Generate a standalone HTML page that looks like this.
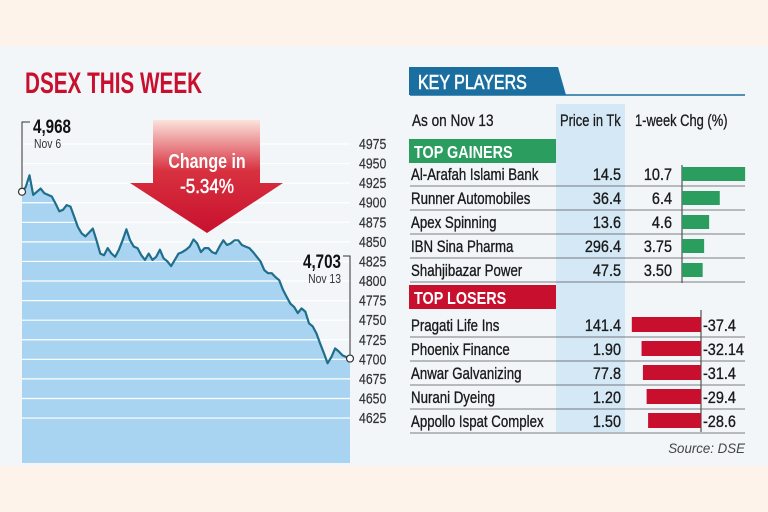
<!DOCTYPE html>
<html><head><meta charset="utf-8"><style>
html,body{margin:0;padding:0;background:#fdf3ea;}
svg{display:block;font-family:"Liberation Sans",sans-serif;}
</style></head><body>
<svg id="c" width="768" height="512" viewBox="0 0 768 512">
<defs>
<linearGradient id="ag" x1="0" y1="0" x2="0" y2="1">
<stop offset="0" stop-color="#fbe3dc"/><stop offset="0.45" stop-color="#d8313f"/><stop offset="1" stop-color="#c8102e"/>
</linearGradient>
</defs>
<rect x="0" y="0" width="768" height="512" fill="#fdf3ea"/>
<rect x="0" y="46" width="768" height="420" fill="#f2f6f9"/>
<g id="chart"></g>
<g id="table"></g>
</svg>
<script>
const NS='http://www.w3.org/2000/svg';
const yTicks=[4975,4950,4925,4900,4875,4850,4825,4800,4775,4750,4725,4700,4675,4650,4625];
const dsexValues=[4914,4920,4935,4910,4914,4918,4912,4910,4908,4899,4889,4891,4897,4895,4882,4869,4861,4857,4862,4867,4852,4835,4833,4842,4835,4831,4840,4852,4866,4852,4844,4842,4833,4827,4835,4827,4831,4840,4829,4825,4819,4827,4835,4837,4840,4844,4853,4848,4837,4842,4842,4837,4835,4844,4852,4846,4848,4852,4852,4846,4844,4842,4837,4831,4825,4814,4810,4810,4805,4801,4789,4780,4771,4767,4759,4765,4761,4746,4742,4733,4720,4708,4695,4703,4714,4710,4705,4703,4701];
const gainerNames=['Al-Arafah Islami Bank','Runner Automobiles','Apex Spinning','IBN Sina Pharma','Shahjibazar Power'];
const gainerPrices=['14.5','36.4','13.6','296.4','47.5'];
const gainerChg=[10.7,6.4,4.6,3.75,3.50];
const gainerChgLabels=['10.7','6.4','4.6','3.75','3.50'];
const loserNames=['Pragati Life Ins','Phoenix Finance','Anwar Galvanizing','Nurani Dyeing','Appollo Ispat Complex'];
const loserPrices=['141.4','1.90','77.8','1.20','1.50'];
const loserChg=[-37.4,-32.14,-31.4,-29.4,-28.6];
const loserChgLabels=['-37.4','-32.14','-31.4','-29.4','-28.6'];

function el(tag,attrs,parent,text){const e=document.createElementNS(NS,tag);for(const k in attrs)e.setAttribute(k,attrs[k]);if(text!==undefined)e.textContent=text;parent.appendChild(e);return e;}
function txt(parent,x,y,s,size,opts){opts=opts||{};const g=el('g',{transform:`translate(${x},${y}) scale(${opts.sx||0.8},1)`},parent);
const a={x:0,y:0,'font-size':size,'font-weight':opts.bold?'bold':'normal',fill:opts.fill||'#1a1a1a','text-anchor':opts.anchor||'start','font-style':opts.italic?'italic':'normal'};
if(opts.heavy){a.stroke=opts.fill||'#1a1a1a';a['stroke-width']=opts.heavy;}
const t=el('text',a,g,s);return t;}

const chart=document.getElementById('chart');
const X0=22,X1=350,YB=463;
const yScale=v=>144+(4975-v)*0.783;
const xScale=i=>X0+(X1-X0)*i/(dsexValues.length-1);

let d=`M${X0},${YB}`;dsexValues.forEach((v,i)=>d+=` L${xScale(i).toFixed(1)},${yScale(v).toFixed(1)}`);d+=` L${X1},${YB} Z`;
const area=el('path',{d:d,fill:'#a9d4f1'},chart);


yTicks.forEach(t=>{const yy=yScale(t);
 const ln=el('line',{x1:X0,x2:X1,y1:yy,y2:yy,stroke:'#ffffff','stroke-width':1.2},chart);
 
 
 const lb=txt(chart,359,yy+5,String(t),15,{sx:0.82,fill:'#333',heavy:0.2});
 
 
});
let ld='';dsexValues.forEach((v,i)=>ld+=(i?' L':'M')+xScale(i).toFixed(1)+','+yScale(v).toFixed(1));
const line=el('path',{d:ld,fill:'none',stroke:'#1f6e8c','stroke-width':2.2,'stroke-linejoin':'round'},chart);


const sp=el('circle',{cx:xScale(0),cy:yScale(dsexValues[0]),r:3.5,fill:'#fff',stroke:'#333','stroke-width':1.2},chart);


const lastI=dsexValues.length-1;
const ep=el('circle',{cx:xScale(lastI),cy:yScale(dsexValues[lastI]),r:3.5,fill:'#fff',stroke:'#333','stroke-width':1.2},chart);


el('path',{d:`M30,122 L22,122 L22,${yScale(dsexValues[0])-4}`,fill:'none',stroke:'#333','stroke-width':1},chart);
el('path',{d:`M343,256 L350,256 L350,${yScale(dsexValues[lastI])-4}`,fill:'none',stroke:'#333','stroke-width':1},chart);
let t;
t=txt(chart,33,133,'4,968',19,{bold:true,fill:'#111'});
t=txt(chart,34,148,'Nov 6',13,{fill:'#333'});
t=txt(chart,341,268,'4,703',19,{bold:true,fill:'#111',anchor:'end'});
t=txt(chart,341,283,'Nov 13',13,{fill:'#333',anchor:'end'});
t=txt(chart,25,93,'DSEX THIS WEEK',30,{bold:true,fill:'#c8102e',sx:0.69});
const ar=el('path',{d:'M153,120 L260,120 L260,183 L283,183 L207,233 L130,183 L153,183 Z',fill:'url(#ag)'},chart);


t=txt(chart,207,168,'Change in',20,{bold:true,fill:'#fff',anchor:'middle'});
t=txt(chart,207,193,'-5.34%',20,{fill:'#fff',anchor:'middle',sx:0.85,heavy:0.5});

const tb=document.getElementById('table');
el('rect',{x:556,y:104,width:69,height:328,fill:'#d5e8f6'},tb);
el('line',{x1:410,x2:745,y1:95,y2:95,stroke:'#1a6fa0','stroke-width':1.5},tb);
const tab=el('path',{d:'M409,67 L558,67 L566,95 L409,95 Z',fill:'#1a6fa0'},tb);


t=txt(tb,418,89,'KEY PLAYERS',20,{fill:'#fff',sx:0.8,heavy:0.6});
t=txt(tb,412,126,'As on Nov 13',17,{heavy:0.3});
t=txt(tb,560,126,'Price in Tk',17,{sx:0.76,heavy:0.3});
t=txt(tb,635,126,'1-week Chg (%)',17,{sx:0.76,heavy:0.3});
el('rect',{x:409,y:139,width:147,height:24,fill:'#2a9d5f'},tb);
t=txt(tb,414,158,'TOP GAINERS',18,{bold:true,fill:'#fff',sx:0.8});
el('rect',{x:409,y:285,width:147,height:24,fill:'#c8102e'},tb);
t=txt(tb,414,304,'TOP LOSERS',18,{bold:true,fill:'#fff',sx:0.8});

const GAX=682,gScale=5.9;
el('line',{x1:GAX,x2:GAX,y1:165,y2:283,stroke:'#333','stroke-width':1},tb);
gainerNames.forEach((n,i)=>{const b=180+i*24;
 let a=txt(tb,411,b,n,17,{heavy:0.35,sx:0.78});
 a=txt(tb,621,b,gainerPrices[i],17,{anchor:'end',sx:0.85,heavy:0.35});
 a=txt(tb,672,b,gainerChgLabels[i],17,{anchor:'end',sx:0.85,heavy:0.35});
 const r=el('rect',{x:GAX,y:b-13,width:gainerChg[i]*gScale,height:14,fill:'#2a9d5f'},tb);
 
 
 el('line',{x1:410,x2:745,y1:b+6,y2:b+6,stroke:'#555','stroke-width':0.8},tb);
});
const LAX=701,lScale=1.85;
el('line',{x1:LAX,x2:LAX,y1:310,y2:432,stroke:'#333','stroke-width':1},tb);
loserNames.forEach((n,i)=>{const b=331+i*24;
 let a=txt(tb,411,b,n,17,{heavy:0.35,sx:0.78});
 a=txt(tb,621,b,loserPrices[i],17,{anchor:'end',sx:0.85,heavy:0.35});
 a=txt(tb,703,b,loserChgLabels[i],17,{sx:0.85,heavy:0.35});
 const w=-loserChg[i]*lScale;
 const r=el('rect',{x:LAX-w,y:b-14,width:w,height:15,fill:'#c8102e'},tb);
 
 
 el('line',{x1:410,x2:745,y1:b+6,y2:b+6,stroke:'#555','stroke-width':0.8},tb);
});
t=txt(tb,745,453,'Source: DSE',14,{italic:true,anchor:'end',fill:'#444',sx:0.95});
</script>
</body></html>
